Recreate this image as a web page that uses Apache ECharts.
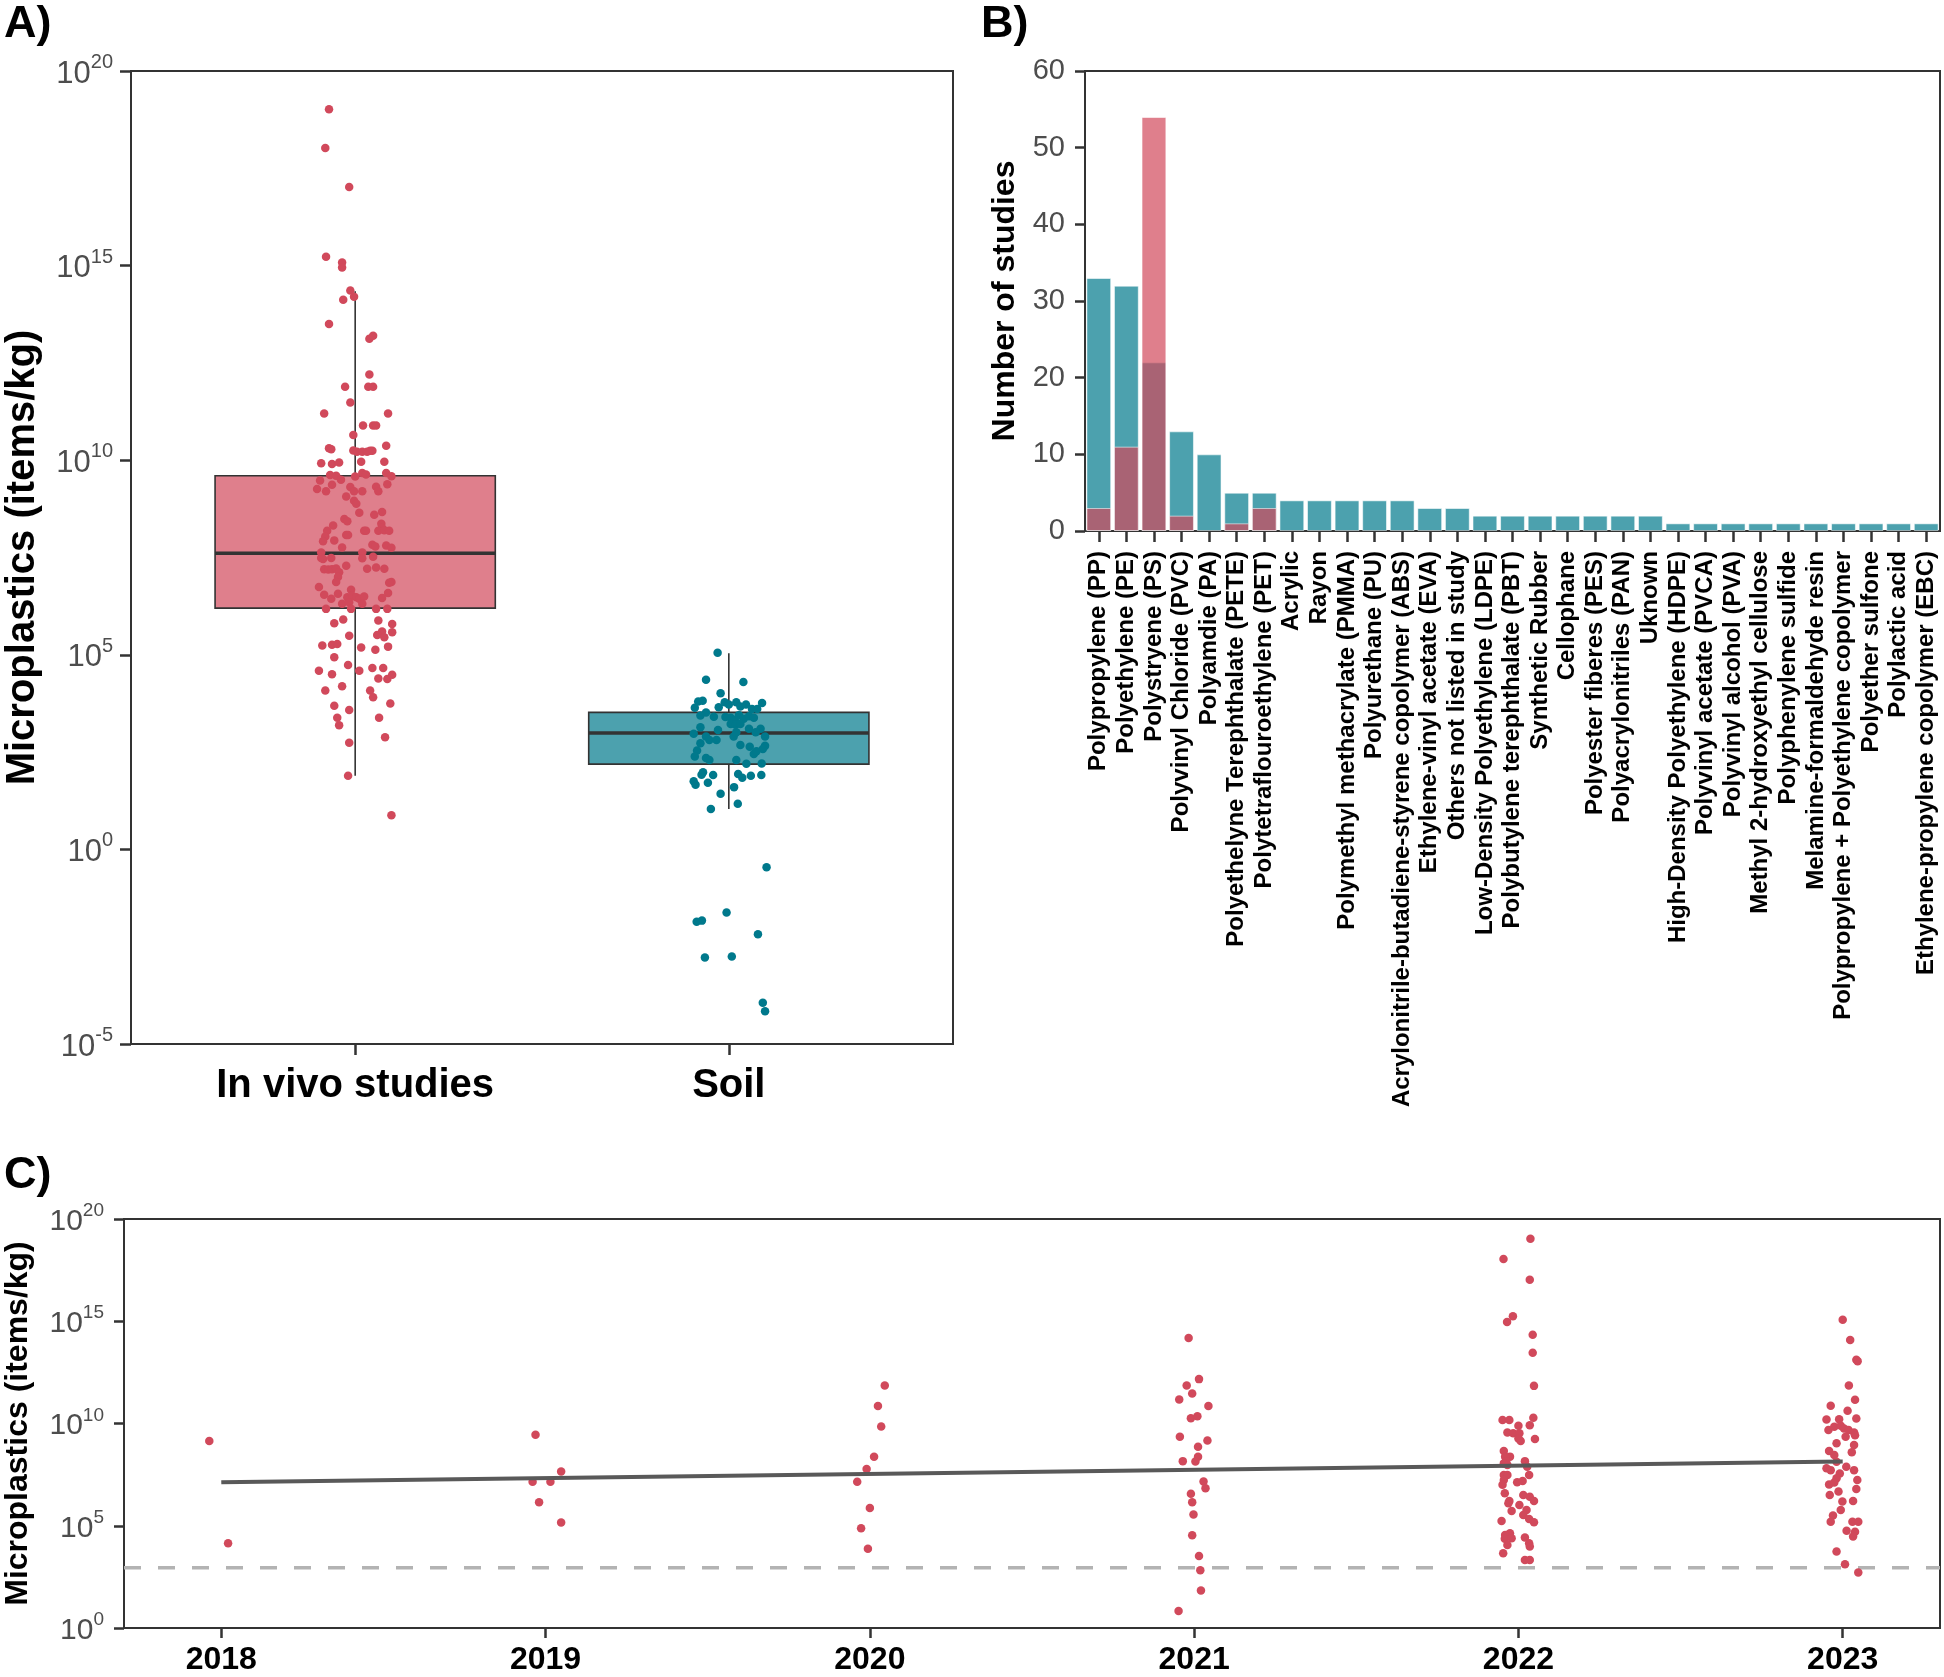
<!DOCTYPE html>
<html>
<head>
<meta charset="utf-8">
<script src="https://cdn.jsdelivr.net/npm/echarts@6/dist/echarts.min.js"></script>
<style>html,body{margin:0;padding:0;background:#fff}#main{width:1944px;height:1677px}</style>
</head>
<body>
<div id="main"></div>
<script>
// ---------------- DATA ----------------
// Panel A: groups and boxplot stats (log10 items/kg): [low whisker, Q1, median, Q3, high whisker]
const groupNames = ['In vivo studies', 'Soil'];
const invivoBox = [1.89, 6.20, 7.61, 9.60, 14.34];
const soilBox = [1.04, 2.19, 2.99, 3.52, 5.04];
// jittered points: [horizontal jitter (category units), log10 value]
const invivoPoints = [
[-0.070,19.02],[-0.080,18.02],[-0.016,17.02],[-0.078,15.23],[-0.035,15.08],[-0.035,14.95],
[-0.013,14.36],[-0.003,14.20],[-0.032,14.12],[-0.070,13.50],[0.038,13.12],[0.048,13.20],[0.038,12.20],
[-0.027,11.89],[0.035,11.89],[0.048,11.89],[-0.013,11.48],[-0.083,11.20],[0.088,11.20],[0.021,10.89],
[0.048,10.89],[0.056,10.89],[-0.005,10.65],[-0.070,10.31],[-0.064,10.28],[-0.005,10.25],[0.005,10.22],
[0.019,10.22],[0.032,10.22],[0.040,10.24],[0.046,10.24],[0.083,10.37],[-0.091,9.92],[-0.062,9.90],
[-0.043,9.94],[0.016,9.96],[0.078,9.96],
[-0.067,9.62],[-0.051,9.60],[0.019,9.67],[0.029,9.63],[0.083,9.67],[0.097,9.59],[0,9.58],[-0.094,9.48],
[-0.062,9.37],[-0.038,9.50],[-0.102,9.26],[-0.078,9.20],[-0.013,9.31],[-0.003,9.20],[0.019,9.20],
[0.056,9.32],[0.062,9.20],[0.086,9.38],[-0.024,9.07],[-0.003,8.96],[0.003,8.88],[0.011,8.65],[0.051,8.60],
[0.072,8.67],[-0.029,8.49],[-0.021,8.43],[-0.059,8.32],[-0.075,8.19],[0.070,8.37],[0.072,8.26],[0.024,8.19],
[0.029,8.19],[0.062,8.19],[0.078,8.20],[0.091,8.19],[-0.080,8.04],[-0.086,7.92],[-0.024,8.08],[-0.019,8.08],
[-0.056,7.94],[-0.035,7.76],[0.046,7.83],[0.054,7.78],[0.083,7.81],[0.097,7.75],[-0.091,7.63],[0.019,7.63],
[-0.091,7.49],[-0.086,7.46],[-0.064,7.49],[0.019,7.48],[0.048,7.52],[-0.083,7.20],[-0.072,7.19],[-0.062,7.20],
[-0.051,7.22],[-0.024,7.29],[-0.043,7.12],[-0.046,7.00],[-0.051,6.87],[0.032,7.21],[0.056,7.24],[0.078,7.21],
[0.097,6.87],[0.091,6.85],[-0.097,6.74],[-0.011,6.67],[-0.083,6.54],[-0.046,6.57],[-0.064,6.44],[-0.021,6.48],
[-0.008,6.52],[0.003,6.48],[0.011,6.44],[0.024,6.50],[0.088,6.59],[0.072,6.46],[-0.035,6.31],[-0.016,6.35],
[0.019,6.31],[-0.011,6.18],[-0.078,6.18],[0.056,6.18],[0.086,6.18],[-0.056,5.81],[-0.032,5.91],[0.062,5.88],
[0.099,5.79],[0.072,5.60],[0.059,5.51],[0.078,5.45],[0.099,5.58],[-0.016,5.49],[-0.088,5.24],[-0.062,5.26],
[-0.048,5.28],[0.016,5.19],[0.054,5.13],[0.088,5.21],[-0.056,4.94],
[-0.019,4.74],[-0.097,4.59],[-0.062,4.50],[0.011,4.59],[0.046,4.66],[0.075,4.66],[0.062,4.39],[0.086,4.38],
[0.099,4.49],[-0.035,4.19],[-0.080,4.08],[0.040,4.08],[0.048,3.91],[0.094,3.75],[-0.056,3.69],[-0.016,3.58],
[-0.048,3.38],[-0.043,3.19],[0.064,3.38],[0.080,2.88],[-0.016,2.74],[-0.019,1.89],[0.097,0.88]
];
const soilPoints = [
[-0.030,5.05],[-0.061,4.36],[0.039,4.30],[-0.022,4.01],[-0.082,3.80],[-0.070,3.82],[-0.091,3.64],[-0.027,3.65],
[-0.011,3.78],[0,3.72],[0.020,3.78],[0.031,3.67],[0.046,3.72],[0.062,3.61],[0.076,3.61],[0.089,3.76],
[-0.061,3.52],[-0.040,3.41],[-0.076,3.44],[-0.009,3.40],[0.005,3.38],[0.016,3.32],[0.027,3.45],[0.040,3.36],
[0.054,3.42],[0.067,3.38],[0.005,3.22],[0.018,3.20],[0.031,3.22],[-0.076,3.14],[-0.029,3.07],[0.054,3.10],
[0.085,3.10],[-0.094,2.97],[0.013,2.90],[0.020,3.01],[0.072,3.01],[0.097,2.90],[-0.061,2.90],[-0.052,2.81],
[-0.033,2.81],[-0.076,2.73],[0.031,2.68],[0.056,2.64],[0.097,2.66],[0.091,2.58],[-0.085,2.54],[-0.091,2.39],
[0.067,2.45],[0.074,2.52],[-0.061,2.35],[-0.052,2.30],[0.020,2.30],[0.047,2.20],[0.088,2.21],[-0.069,1.98],
[-0.073,1.92],[-0.042,1.91],[0.025,1.94],[0.036,1.84],[0.059,1.89],[0.087,1.91],[-0.094,1.75],[-0.089,1.66],
[-0.056,1.71],[0.014,1.60],[-0.022,1.43],[0.024,1.17],[-0.048,1.04],
[0.101,-0.46],[-0.006,-1.62],[-0.072,-1.83],[-0.086,-1.86],[0.078,-2.18],[-0.064,-2.78],[0.008,-2.75],
[0.091,-3.94],[0.097,-4.16]
];

// Panel B: polymer types and number of studies
const polymers = ['Polypropylene (PP)','Polyethylene (PE)','Polystryene (PS)','Polyvinyl Chloride (PVC)','Polyamdie (PA)',
'Polyethelyne Terephthalate (PETE)','Polytetraflouroethylene (PET)','Acrylic','Rayon','Polymethyl methacrylate (PMMA)',
'Polyurethane (PU)','Acrylonitrile-butadiene-styrene copolymer (ABS)','Ethylene-vinyl acetate (EVA)','Others not listed in study',
'Low-Density Polyethylene (LDPE)','Polybutylene terephthalate (PBT)','Synthetic Rubber','Cellophane','Polyester fiberes (PES)',
'Polyacrylonitriles (PAN)','Uknown','High-Density Polyethylene (HDPE)','Polyvinyl acetate (PVCA)','Polyvinyl alcohol (PVA)',
'Methyl 2-hydroxyethyl cellulose','Polyphenylene sulfide','Melamine-formaldehyde resin','Polypropylene + Polyethylene copolymer',
'Polyether sulfone','Polylactic acid','Ethylene-propylene copolymer (EBC)'];
const soilStudies = [33,32,22,13,10,5,5,4,4,4,4,4,3,3,2,2,2,2,2,2,2,1,1,1,1,1,1,1,1,1,1];
const invivoStudies = [3,11,54,2,0,1,3,0,0,0,0,0,0,0,0,0,0,0,0,0,0,0,0,0,0,0,0,0,0,0,0];

// Panel C: in vivo concentrations by publication year: [year, jitter (years), log10 value]
const years = [2018, 2019, 2020, 2021, 2022, 2023];
const yearPoints = [
[2018,-0.037,9.15],[2018,0.021,4.14],
[2019,-0.031,9.45],[2019,0.048,7.65],[2019,-0.040,7.15],[2019,0.015,7.15],[2019,-0.020,6.15],[2019,0.048,5.16],
[2020,0.046,11.86],[2020,0.025,10.86],[2020,0.035,9.85],[2020,0.013,8.37],[2020,-0.010,7.77],[2020,-0.039,7.15],
[2020,0,5.87],[2020,-0.027,4.88],[2020,-0.006,3.88],
[2021,-0.017,14.18],[2021,0.015,12.17],[2021,-0.023,11.86],[2021,-0.006,11.47],[2021,-0.046,11.17],[2021,0.044,10.86],
[2021,-0.010,10.26],[2021,0.010,10.36],[2021,-0.044,9.35],[2021,0.041,9.17],[2021,0.012,8.86],[2021,-0.035,8.16],
[2021,0.012,8.37],[2021,0.004,8.14],[2021,0.029,7.16],[2021,0.035,6.83],[2021,-0.010,6.56],[2021,-0.006,6.15],
[2021,-0.002,5.55],[2021,-0.006,4.54],[2021,0.015,3.52],[2021,0.019,2.82],[2021,0.021,1.83],[2021,-0.048,0.83],
[2022,0.037,19.04],[2022,-0.046,18.04],[2022,0.035,17.03],[2022,-0.017,15.24],[2022,-0.035,14.96],[2022,0.044,14.34],
[2022,0.044,13.46],[2022,0.048,11.84],
[2022,-0.049,10.17],[2022,-0.028,10.17],[2022,0.046,10.28],[2022,0,9.89],[2022,0.035,9.92],[2022,-0.034,9.56],
[2022,-0.016,9.52],[2022,0.003,9.52],[2022,0,9.27],[2022,0.007,9.14],[2022,0.051,9.24],[2022,-0.045,8.65],
[2022,-0.026,8.38],[2022,-0.041,8.38],[2022,-0.038,8.16],[2022,0.020,8.16],[2022,-0.034,7.97],[2022,-0.045,8.05],
[2022,0.027,7.89],[2022,-0.045,7.48],[2022,-0.034,7.48],[2022,0.033,7.48],[2022,-0.045,7.24],[2022,-0.004,7.13],
[2022,0.013,7.19],[2022,-0.049,7.00],[2022,-0.042,6.59],[2022,0.015,6.50],[2022,0.035,6.42],[2022,0.048,6.21],
[2022,-0.028,6.21],[2022,-0.031,6.10],[2022,0.003,6.02],[2022,0.025,5.77],[2022,-0.021,5.72],[2022,0.015,5.53],
[2022,0.033,5.33],[2022,0.048,5.17],[2022,-0.052,5.23],[2022,-0.026,4.63],[2022,-0.041,4.55],[2022,-0.042,4.36],
[2022,-0.021,4.39],[2022,0.020,4.42],[2022,0.033,4.14],[2022,-0.034,4.06],[2022,-0.047,3.66],[2022,0.035,3.98],
[2022,0.020,3.33],[2022,0.035,3.33],
[2023,0,15.07],[2023,0.023,14.08],[2023,0.042,13.12],[2023,0.046,13.05],[2023,0.019,11.86],
[2023,0.038,11.16],[2023,-0.037,10.87],[2023,0.015,10.62],[2023,-0.050,10.20],[2023,-0.011,10.21],[2023,0.042,10.25],
[2023,-0.044,9.68],[2023,-0.026,9.84],[2023,-0.006,9.89],[2023,0.004,9.76],[2023,0.018,9.68],[2023,0.035,9.56],
[2023,0.009,9.35],[2023,0.038,9.43],[2023,-0.019,9.03],[2023,0.035,8.95],[2023,-0.042,8.65],[2023,-0.026,8.46],
[2023,0.028,8.59],[2023,-0.019,8.13],[2023,-0.050,7.81],[2023,-0.037,7.72],[2023,0.011,7.89],[2023,0.035,7.72],
[2023,-0.009,7.56],[2023,-0.019,7.32],[2023,0.045,7.24],[2023,-0.042,7.02],[2023,-0.026,7.12],[2023,0.042,6.80],
[2023,-0.013,6.67],[2023,-0.040,6.50],[2023,-0.001,6.18],[2023,0.032,6.21],[2023,-0.006,5.77],[2023,-0.030,5.50],
[2023,-0.037,5.20],[2023,0.030,5.20],[2023,0.048,5.20],[2023,0.012,4.75],[2023,0.038,4.71],[2023,0.032,4.47],
[2023,-0.019,3.74],[2023,0.007,3.12],[2023,0.048,2.71]
];
const trendLine = [[2018, 7.13], [2023, 8.14]];   // fitted line (log10)
const soilMedianRef = 2.95;                        // dashed reference (log10)
const yearRange = [2017.7, 2023.3];

// ---------------- STYLE ----------------
const SANS = "'Liberation Sans', Arial, Helvetica, sans-serif";
const RED = '#D1495B', TEAL = '#00798C';
const RED_A = 'rgba(209,73,91,0.7)', TEAL_A = 'rgba(0,121,140,0.7)';
const DARK = '#333333', GREY = '#4d4d4d';

function supRich(size, sup, pad) {
  return {
    b: {fontSize: size, fontFamily: SANS, color: GREY, verticalAlign: 'bottom'},
    s: {fontSize: sup, fontFamily: SANS, color: GREY, verticalAlign: 'bottom', padding: [0, 0, pad, 0]}
  };
}
const axisLineStyle = {show: true, onZero: false, lineStyle: {color: DARK, width: 2}};

const chart = echarts.init(document.getElementById('main'), null, {renderer: 'canvas'});

function boxRender(params, api) {
  const x = api.value(0), lo = api.value(1), q1 = api.value(2), md = api.value(3), q3 = api.value(4), hi = api.value(5);
  const hw = 0.375;
  const tl = api.coord([x - hw, q3]), br = api.coord([x + hw, q1]);
  const ml = api.coord([x - hw, md]), mr = api.coord([x + hw, md]);
  const pHi = api.coord([x, hi]), pQ3 = api.coord([x, q3]), pQ1 = api.coord([x, q1]), pLo = api.coord([x, lo]);
  return {type: 'group', children: [
    {type: 'line', shape: {x1: pHi[0], y1: pHi[1], x2: pQ3[0], y2: pQ3[1]}, style: {stroke: DARK, lineWidth: 1.6}},
    {type: 'line', shape: {x1: pQ1[0], y1: pQ1[1], x2: pLo[0], y2: pLo[1]}, style: {stroke: DARK, lineWidth: 1.6}},
    {type: 'rect', shape: {x: tl[0], y: tl[1], width: br[0] - tl[0], height: br[1] - tl[1]},
      style: {fill: api.visual('color'), stroke: DARK, lineWidth: 1.6}},
    {type: 'line', shape: {x1: ml[0], y1: ml[1], x2: mr[0], y2: mr[1]}, style: {stroke: DARK, lineWidth: 3.5}}
  ]};
}

const option = {
  animation: false,
  backgroundColor: '#fff',
  title: [
    {text: 'A)', left: 4, top: 2, padding: 0, textStyle: {fontSize: 45, fontWeight: 'bold', fontFamily: SANS, color: '#000'}},
    {text: 'B)', left: 981, top: 2, padding: 0, textStyle: {fontSize: 45, fontWeight: 'bold', fontFamily: SANS, color: '#000'}},
    {text: 'C)', left: 4, top: 1153, padding: 0, textStyle: {fontSize: 45, fontWeight: 'bold', fontFamily: SANS, color: '#000'}}
  ],
  grid: [
    {left: 131, top: 71, width: 822, height: 973, show: true, borderColor: DARK, borderWidth: 2, outerBoundsMode: 'none', containLabel: false},
    {left: 1085, top: 71, width: 855, height: 460, show: true, borderColor: DARK, borderWidth: 2, outerBoundsMode: 'none', containLabel: false},
    {left: 124, top: 1219, width: 1816, height: 409, show: true, borderColor: DARK, borderWidth: 2, outerBoundsMode: 'none', containLabel: false}
  ],
  xAxis: [
    {gridIndex: 0, type: 'value', min: 0.4, max: 2.6, splitLine: {show: false}, axisLine: axisLineStyle,
      axisTick: {show: true, length: 11, lineStyle: {color: DARK, width: 2.5}, customValues: [1, 2]},
      axisLabel: {customValues: [1, 2], margin: 22, formatter: v => groupNames[Math.round(v) - 1],
        fontSize: 40, fontWeight: 'bold', fontFamily: SANS, color: '#000'}},
    {gridIndex: 1, type: 'category', data: polymers, axisLine: axisLineStyle,
      axisTick: {show: true, alignWithLabel: true, length: 11, lineStyle: {color: DARK, width: 2.5}},
      axisLabel: {interval: 0, rotate: 90, margin: 20, fontSize: 24, fontWeight: 'bold', fontFamily: SANS, color: '#000'}},
    {gridIndex: 2, type: 'value', min: yearRange[0], max: yearRange[1], splitLine: {show: false}, axisLine: axisLineStyle,
      axisTick: {show: true, length: 10, lineStyle: {color: DARK, width: 2.5}, customValues: years},
      axisLabel: {customValues: years, margin: 16, formatter: v => String(Math.round(v)),
        fontSize: 32, fontWeight: 'bold', fontFamily: SANS, color: '#000'}}
  ],
  yAxis: [
    {gridIndex: 0, type: 'value', min: -5, max: 20, interval: 5, splitLine: {show: false}, axisLine: axisLineStyle,
      axisTick: {show: true, length: 11, lineStyle: {color: DARK, width: 2.5}},
      axisLabel: {margin: 18, formatter: v => '{b|10}{s|' + v + '}', rich: supRich(31, 20, 17)},
      name: 'Microplastics (items/kg)', nameLocation: 'middle', nameGap: 88,
      nameTextStyle: {fontSize: 40, fontWeight: 'bold', fontFamily: SANS, color: '#000'}},
    {gridIndex: 1, type: 'value', min: 0, max: 60, interval: 10, splitLine: {show: false}, axisLine: axisLineStyle,
      axisTick: {show: true, length: 10, lineStyle: {color: DARK, width: 2.5}},
      axisLabel: {margin: 20, fontSize: 29, fontFamily: SANS, color: GREY},
      name: 'Number of studies', nameLocation: 'middle', nameGap: 64,
      nameTextStyle: {fontSize: 32, fontWeight: 'bold', fontFamily: SANS, color: '#000'}},
    {gridIndex: 2, type: 'value', min: 0, max: 20, interval: 5, splitLine: {show: false}, axisLine: axisLineStyle,
      axisTick: {show: true, length: 10, lineStyle: {color: DARK, width: 2.5}},
      axisLabel: {margin: 20, formatter: v => '{b|10}{s|' + v + '}', rich: supRich(30, 19, 16)},
      name: 'Microplastics (items/kg)', nameLocation: 'middle', nameGap: 90,
      nameTextStyle: {fontSize: 32, fontWeight: 'bold', fontFamily: SANS, color: '#000'}}
  ],
  series: [
    {type: 'custom', xAxisIndex: 0, yAxisIndex: 0, renderItem: boxRender, z: 1,
      data: [
        {value: [1].concat(invivoBox), itemStyle: {color: RED_A}},
        {value: [2].concat(soilBox), itemStyle: {color: TEAL_A}}
      ]},
    {type: 'scatter', xAxisIndex: 0, yAxisIndex: 0, symbolSize: 8.5, z: 3, itemStyle: {color: RED, opacity: 1},
      data: invivoPoints.map(p => [1 + p[0], p[1]])},
    {type: 'scatter', xAxisIndex: 0, yAxisIndex: 0, symbolSize: 8.5, z: 3, itemStyle: {color: TEAL, opacity: 1},
      data: soilPoints.map(p => [2 + p[0], p[1]])},
    {type: 'bar', xAxisIndex: 1, yAxisIndex: 1, data: soilStudies, barGap: '-100%', barCategoryGap: '10%',
      itemStyle: {color: TEAL_A, borderColor: 'rgba(255,255,255,0.55)', borderWidth: 1}},
    {type: 'bar', xAxisIndex: 1, yAxisIndex: 1, data: invivoStudies.map(v => v > 0 ? v : '-'), barGap: '-100%', barCategoryGap: '10%',
      itemStyle: {color: RED_A, borderColor: 'rgba(255,255,255,0.55)', borderWidth: 1}},
    {type: 'line', xAxisIndex: 2, yAxisIndex: 2, data: [[yearRange[0], soilMedianRef], [yearRange[1], soilMedianRef]],
      symbol: 'none', silent: true, z: 2, lineStyle: {color: '#b3b3b3', width: 3.5, type: [17, 17]}},
    {type: 'scatter', xAxisIndex: 2, yAxisIndex: 2, symbolSize: 8.5, z: 3, itemStyle: {color: RED, opacity: 1},
      data: yearPoints.map(p => [p[0] + p[1], p[2]])},
    {type: 'line', xAxisIndex: 2, yAxisIndex: 2, data: trendLine, symbol: 'none', silent: true, z: 4,
      lineStyle: {color: '#595959', width: 4}}
  ]
};
chart.setOption(option);
</script>
</body>
</html>
